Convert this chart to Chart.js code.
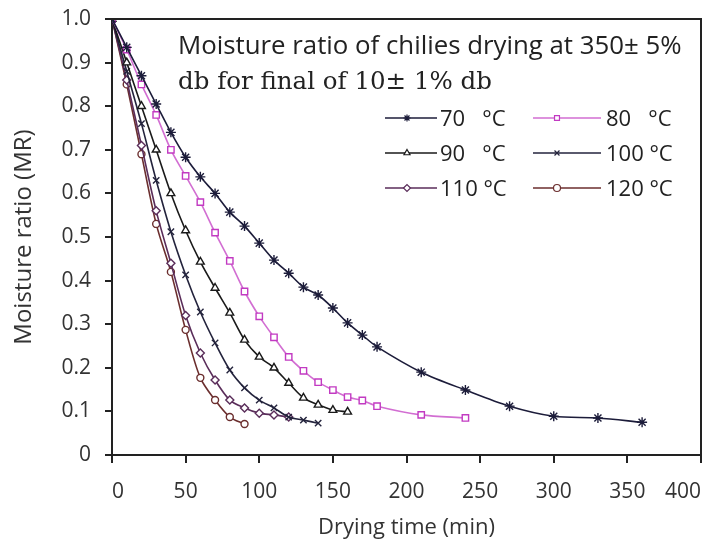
<!DOCTYPE html>
<html>
<head>
<meta charset="utf-8">
<script src="https://cdn.jsdelivr.net/npm/chart.js@4.4.1/dist/chart.umd.min.js"></script>
<style>
  html, body { margin: 0; padding: 0; background: #fff; }
  #wrap { width: 710px; height: 545px; position: relative; }
</style>
</head>
<body>
<div id="wrap"><canvas id="mr-chart" width="710" height="545"></canvas></div>
<script>
// drying time (min) and moisture ratio
var t70 = [0,10,20,30,40,50,60,70,80,90,100,110,120,130,140,150,160,170,180,210,240,270,300,330,360];
var mr70 = [1.0,0.935,0.87,0.805,0.74,0.683,0.638,0.60,0.557,0.525,0.486,0.447,0.417,0.385,0.367,0.337,0.303,0.275,0.248,0.19,0.149,0.112,0.089,0.085,0.075];
var t80 = [0,10,20,30,40,50,60,70,80,90,100,110,120,130,140,150,160,170,180,210,240];
var mr80 = [1.0,0.93,0.85,0.78,0.70,0.64,0.58,0.51,0.445,0.375,0.318,0.27,0.225,0.193,0.167,0.149,0.133,0.125,0.112,0.092,0.085];
var t90 = [0,10,20,30,40,50,60,70,80,90,100,110,120,130,140,150,160];
var mr90 = [1.0,0.90,0.80,0.70,0.60,0.515,0.443,0.383,0.326,0.264,0.225,0.2,0.165,0.131,0.115,0.103,0.099];
var t100 = [0,10,20,30,40,50,60,70,80,90,100,110,120,130,140];
var mr100 = [1.0,0.88,0.76,0.63,0.512,0.413,0.328,0.257,0.195,0.154,0.126,0.108,0.087,0.08,0.073];
var t110 = [0,10,20,30,40,50,60,70,80,90,100,110,120];
var mr110 = [1.0,0.86,0.71,0.56,0.44,0.32,0.234,0.172,0.126,0.108,0.096,0.092,0.087];
var t120 = [0,10,20,30,40,50,60,70,80,90];
var mr120 = [1.0,0.85,0.69,0.53,0.42,0.287,0.177,0.126,0.087,0.071];

var seriesNames = ["70   \u00b0C", "80   \u00b0C", "90   \u00b0C", "100 \u00b0C", "110 \u00b0C", "120 \u00b0C"];
var xTicks = [0,50,100,150,200,250,300,350,400];
var yTicks = [0,0.1,0.2,0.3,0.4,0.5,0.6,0.7,0.8,0.9,1.0];

var titleLine1 = "Moisture ratio of chilies drying at 350\u00b1 5%";
var titleLine2 = "db for final of 10\u00b1 1% db";

function pts(t, v){
  var out = [];
  for (var i = 0; i < t.length; i++) out.push({x: t[i], y: v[i]});
  return out;
}

var sans = "'Open Sans', sans-serif";

var ds = [
  {label: seriesNames[0], data: pts(t70, mr70), borderColor: "#1c1c3a", pointBorderColor: "#1c1c3a", pointStyle: "star", pointRadius: 5},
  {label: seriesNames[1], data: pts(t80, mr80), borderColor: "#d26ed2", pointBorderColor: "#c23ac2", pointStyle: "rect", pointRadius: 4.5},
  {label: seriesNames[2], data: pts(t90, mr90), borderColor: "#1a1a1a", pointBorderColor: "#1a1a1a", pointStyle: "triangle", pointRadius: 4.5},
  {label: seriesNames[3], data: pts(t100, mr100), borderColor: "#23233c", pointBorderColor: "#23233c", pointStyle: "crossRot", pointRadius: 4.5},
  {label: seriesNames[4], data: pts(t110, mr110), borderColor: "#5a2d5a", pointBorderColor: "#5a2d5a", pointStyle: "rectRot", pointRadius: 4},
  {label: seriesNames[5], data: pts(t120, mr120), borderColor: "#6b2e2e", pointBorderColor: "#6b2e2e", pointStyle: "circle", pointRadius: 3.5}
];
ds.forEach(function(d){
  d.borderWidth = 1.6;
  d.pointBackgroundColor = "#fff";
  d.pointBorderWidth = 1.4;
  d.fill = false;
  d.tension = 0.3;
});

// font size that makes a text span the given width
function fitFont(ctx, text, family, width){
  ctx.font = "20px " + family;
  return 20 * width / ctx.measureText(text).width;
}

// box border, title text and legend inside the plot
var boxPlugin = {
  id: "boxAndText",
  afterDraw: function(chart){
    var ctx = chart.ctx, a = chart.chartArea;
    ctx.save();
    ctx.strokeStyle = "#222";
    ctx.lineWidth = 2;
    ctx.beginPath();
    ctx.moveTo(a.left, a.top); ctx.lineTo(a.right, a.top); ctx.lineTo(a.right, a.bottom);
    ctx.stroke();

    ctx.fillStyle = "#222";
    ctx.textBaseline = "alphabetic";
    var f1 = fitFont(ctx, titleLine1, sans, 504);
    ctx.font = f1.toFixed(1) + "px " + sans;
    ctx.fillText(titleLine1, 178, 54);
    var serif = "'DejaVu Serif', serif";
    var f2 = fitFont(ctx, titleLine2, serif, 314);
    ctx.font = f2.toFixed(1) + "px " + serif;
    ctx.fillText(titleLine2, 178, 89);

    var colX = [385, 533], rowY = [118, 153, 188];
    ctx.font = "22px " + sans;
    for (var i = 0; i < ds.length; i++){
      var cx = colX[i % 2], cy = rowY[Math.floor(i / 2)];
      ctx.strokeStyle = ds[i].borderColor;
      ctx.lineWidth = 1.6;
      ctx.beginPath(); ctx.moveTo(cx, cy); ctx.lineTo(cx + (i % 2 ? 68 : 52), cy); ctx.stroke();
      ctx.strokeStyle = ds[i].pointBorderColor;
      ctx.fillStyle = "#fff";
      ctx.lineWidth = 1.2;
      Chart.helpers.drawPoint(ctx, {pointStyle: ds[i].pointStyle, radius: 3.5, rotation: 0, borderWidth: 1.2}, cx + (i % 2 ? 24 : 22), cy);
      ctx.fillStyle = "#222";
      ctx.fillText(seriesNames[i], cx + (i % 2 ? 73 : 55), cy + 8);
    }
    ctx.restore();
  }
};

new Chart(document.getElementById("mr-chart"), {
  type: "line",
  data: { datasets: ds },
  plugins: [boxPlugin],
  options: {
    responsive: false,
    animation: false,
    layout: { padding: { left: 0, top: 19, right: 9, bottom: 0 } },
    plugins: { legend: { display: false }, tooltip: { enabled: false } },
    scales: {
      x: {
        type: "linear", min: 0, max: 400,
        afterBuildTicks: function(s){ s.ticks = xTicks.map(function(v){ return {value: v}; }); },
        afterFit: function(s){ s.height = 90; s.paddingLeft = 0; s.paddingRight = 0; },
        grid: { display: true, drawOnChartArea: false, drawTicks: true, tickLength: 8, color: "#222", lineWidth: 2 },
        border: { display: true, color: "#222", width: 2 },
        ticks: { color: "#333", font: { family: sans, size: 21 }, padding: 16, align: "inner" },
        title: { display: true, text: "Drying time (min)", color: "#333", font: { family: sans, size: 22 }, padding: { top: 0 } }
      },
      y: {
        type: "linear", min: 0, max: 1,
        afterBuildTicks: function(s){ s.ticks = yTicks.map(function(v){ return {value: v}; }); },
        afterFit: function(s){ s.width = 112; s.paddingTop = 0; s.paddingBottom = 0; },
        grid: { display: true, drawOnChartArea: false, drawTicks: true, tickLength: 7, color: "#222", lineWidth: 2 },
        border: { display: true, color: "#222", width: 2 },
        ticks: { color: "#333", font: { family: sans, size: 21 }, padding: 14,
          callback: function(v){ return v === 0 ? "0" : v.toFixed(1); } },
        title: { display: true, text: "Moisture ratio (MR)", color: "#333", font: { family: sans, size: 24 }, padding: { top: 10, bottom: 0 } }
      }
    }
  }
});
</script>
</body>
</html>
